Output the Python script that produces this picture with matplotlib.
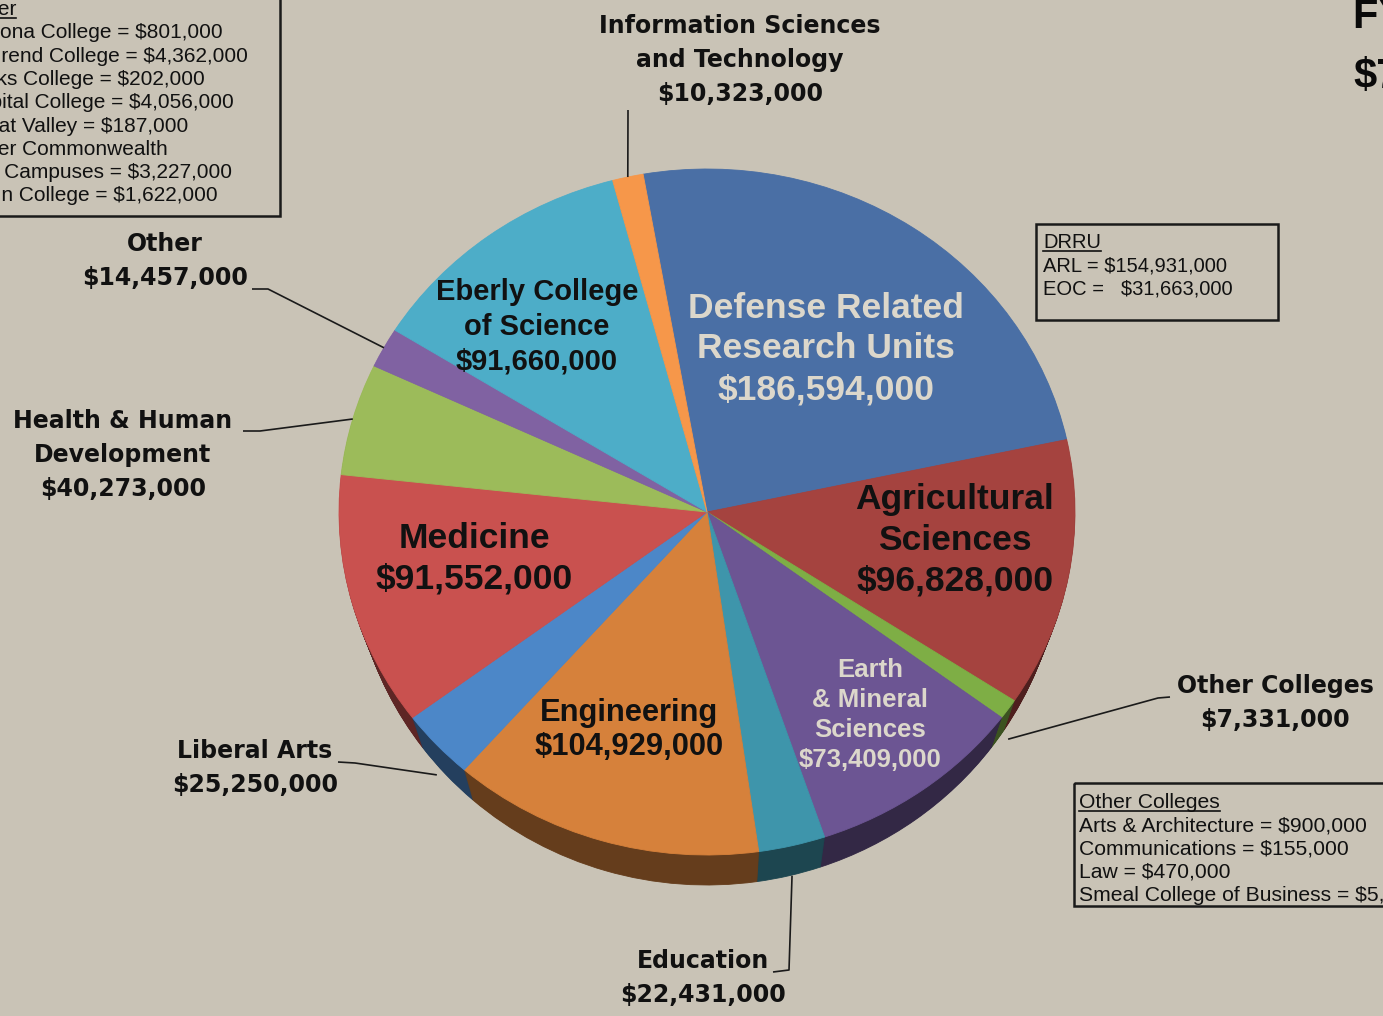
import numpy as np
import matplotlib
matplotlib.use('Agg')
import matplotlib.pyplot as plt
from matplotlib.patches import Rectangle
from matplotlib.transforms import Affine2D
import matplotlib.colors as mcolors

#----------------------------------------------------------------data

units = ['Defense Related\nResearch Units', 'Agricultural\nSciences', 'Other Colleges',
         'Earth\n& Mineral\nSciences', 'Education', 'Engineering', 'Liberal Arts',
         'Medicine', 'Health & Human\nDevelopment', 'Other', 'Eberly College\nof Science',
         'Information Sciences\nand Technology']
funding = [186594000, 96828000, 7331000, 73409000, 22431000, 104929000, 25250000,
           91552000, 40273000, 14457000, 91660000, 10323000]
colors = ['#4A6FA5', '#A5433F', '#7EAE45', '#6C5593', '#3E95AB', '#D6813B', '#4C87C8',
          '#C9514F', '#9CBB5A', '#8062A2', '#4DADC8', '#F6974A']

drru_title = 'DRRU'
drru_lines = ['ARL = $154,931,000', 'EOC =   $31,663,000']
other_title = 'Other'
other_lines = ['Altoona College = $801,000', 'Behrend College = $4,362,000',
               'Berks College = $202,000', 'Capital College = $4,056,000',
               'Great Valley = $187,000', 'Other Commonwealth',
               '       Campuses = $3,227,000', 'Penn College = $1,622,000']
colleges_title = 'Other Colleges'
colleges_lines = ['Arts & Architecture = $900,000', 'Communications = $155,000',
                  'Law = $470,000', 'Smeal College of Business = $5,806,000']

#----------------------------------------------------------------layout

W, H = 1383, 1016
bg = '#C9C3B6'
cx, cy, rx, ry = 707, 512, 368, 343
depth = 30

# label centres (pixels), inside=True -> drawn on the slice
lab = {
    0: dict(xy=(826, 349), inside=True, size=25.5, ls=1.29, color='#DCD7CB'),
    1: dict(xy=(955, 540), inside=True, size=25.5, ls=1.29, color='#111111'),
    2: dict(xy=(1275, 703), inside=False),
    3: dict(xy=(870, 715), inside=True, size=18.5, ls=1.32, color='#DCD7CB'),
    4: dict(xy=(703, 978), inside=False),
    5: dict(xy=(629, 730), inside=True, size=22.2, ls=1.2, color='#111111'),
    6: dict(xy=(255, 768), inside=False),
    7: dict(xy=(474, 559), inside=True, size=25.5, ls=1.29, color='#111111'),
    8: dict(xy=(123, 455), inside=False),
    9: dict(xy=(165, 261), inside=False),
    10: dict(xy=(537, 327), inside=True, size=21, ls=1.3, color='#111111'),
    11: dict(xy=(740, 60), inside=False),
}
# leader line elbows: (text end point, elbow point)
leaders = {
    9: [(252, 289), (268, 289)],
    8: [(243, 431), (260, 431)],
    6: [(338, 762), (355, 763)],
    4: [(773, 972), (789, 970)],
    2: [(1170, 697), (1158, 698)],
    11: [(628, 110), (628, 112)],
}

fig = plt.figure(figsize=(W / 100, H / 100), dpi=100, facecolor=bg)
ax = fig.add_axes([0, 0, 1, 1])
ax.set_facecolor(bg)


def darker(c, f):
    r, g, b = mcolors.to_rgb(c)
    return (r * f, g * f, b * f)


def ellipse_pie(cols, sx, dy):
    tr = Affine2D().scale(rx * sx, -ry).translate(cx, cy + dy) + ax.transData
    ws, _ = ax.pie(funding, colors=cols, startangle=100, counterclock=False, frame=True,
                   wedgeprops=dict(transform=tr, linewidth=0.6))
    for w in ws:
        w.set_edgecolor(w.get_facecolor())
    return ws


dark = [darker(c, 0.47) for c in colors]

# side of the 3d pie: stack of darker pies, slightly narrower as they go down
for d in range(depth, 0, -1):
    ellipse_pie(dark, 1 - 0.035 * d / depth, d)

wedges = ellipse_pie(colors, 1, 0)

# labels
for i, w in enumerate(wedges):
    txt = units[i] + '\n' + '${:,}'.format(funding[i])
    p = lab[i]
    if p['inside']:
        ax.text(*p['xy'], txt, ha='center', va='center', fontsize=p['size'],
                color=p['color'], fontweight='bold', family='Liberation Sans',
                linespacing=p['ls'])
    else:
        ax.text(*p['xy'], txt, ha='center', va='center', fontsize=17, color='#111111',
                fontweight='bold', family='DejaVu Sans', linespacing=1.52)
    if i in leaders:
        mid = np.radians((w.theta1 + w.theta2) / 2)
        ex, ey = cx + rx * np.cos(mid), cy - ry * np.sin(mid)
        if np.sin(mid) < -0.3:
            ey += depth
        pts = leaders[i] + [(ex, ey)]
        ax.plot([q[0] for q in pts], [q[1] for q in pts], color='#1a1a1a', lw=1.2,
                solid_capstyle='butt')

ax.set_xlim(0, W)
ax.set_ylim(H, 0)
ax.set_aspect('auto')
ax.axis('off')


# boxes with breakdowns
def note_box(x0, y0, x1, y1, tx, ty, title, lines, size):
    ax.add_patch(Rectangle((x0, y0), x1 - x0, y1 - y0, fill=False, ec='#1a1a1a',
                           lw=1.8, clip_on=False))
    t = ax.text(tx, ty, title, ha='left', va='baseline', fontsize=size,
                family='Liberation Sans', color='#111111')
    fig.canvas.draw()
    bb = t.get_window_extent().transformed(ax.transData.inverted())
    ax.plot([bb.x0, bb.x1], [ty + 3, ty + 3], color='#111111', lw=1.2)
    for k, line in enumerate(lines):
        ax.text(tx, ty + 23.3 * (k + 1), line, ha='left', va='baseline', fontsize=size,
                family='Liberation Sans', color='#111111')


note_box(-10, -10, 280, 216, -36, 15, other_title, other_lines, 15)
note_box(1036, 224, 1278, 320, 1043, 248, drru_title, drru_lines, 14.5)
note_box(1074, 783, 1395, 906, 1079, 808, colleges_title, colleges_lines, 15.2)

# title (mostly outside the crop)
ax.text(1353, 28, 'FY 2008 Total', ha='left', va='baseline', fontsize=30,
        fontweight='bold', family='Liberation Sans', color='#0a0a0a')
ax.text(1353, 87, '${:,}'.format(sum(funding)), ha='left', va='baseline', fontsize=30,
        fontweight='bold', family='Liberation Sans', color='#0a0a0a')

ax.set_xlim(0, W)
ax.set_ylim(H, 0)

fig.savefig('out.png', dpi=100, facecolor=bg)
